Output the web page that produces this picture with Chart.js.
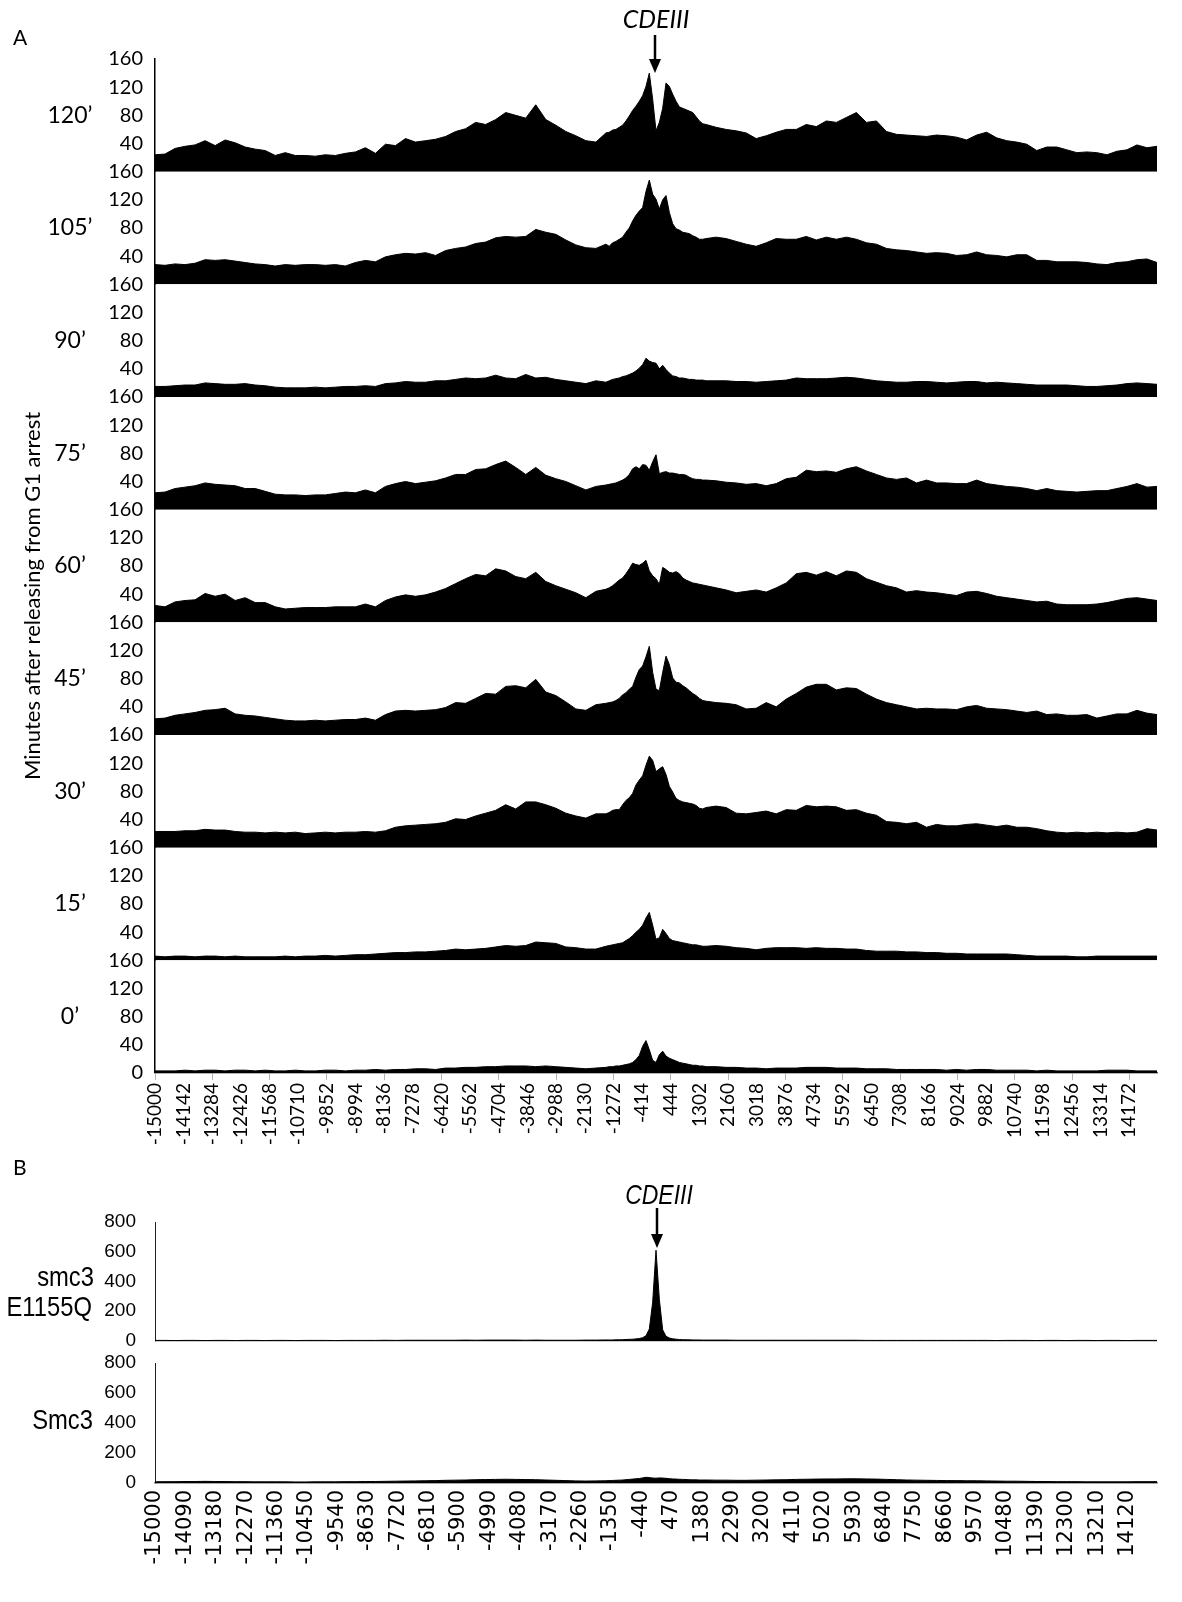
<!DOCTYPE html>
<html><head><meta charset="utf-8">
<script src="https://cdn.jsdelivr.net/npm/chart.js@4/dist/chart.umd.min.js"></script>
<style>
html,body{margin:0;padding:0;background:#fff;}
#wrap{position:relative;width:1182px;height:1602px;overflow:hidden;}
#cA{position:absolute;left:0;top:0;width:1182px;height:1160px;}
#cB{position:absolute;left:0;top:1150px;width:1182px;height:452px;}
</style></head><body>
<div id="wrap">
<canvas id="cA" width="1182" height="1160"></canvas>
<canvas id="cB" width="1182" height="452"></canvas>
</div>
<script>
// ---------- data ----------
const positions = [
-15000,-14700,-14400,-14100,-13800,-13500,-13200,-12900,-12600,-12300,-12000,-11700,-11400,-11100,-10800,-10500,-10200,-9900,-9600,-9300,-9000,-8700,-8400,-8100,-7800,-7500,-7200,-6900,-6600,-6300,-6000,-5700,-5400,-5100,-4800,-4500,-4200,-3900,-3600,-3300,-3000,-2700,-2400,-2100,-1800,
-1500,-1400,-1300,-1200,-1100,-1000,-900,-800,-700,-600,-500,-400,-300,-200,-100,0,100,200,300,400,500,600,700,800,900,1000,1100,1200,1300,1400,1500,
1800,2100,2400,2700,3000,3300,3600,3900,4200,4500,4800,5100,5400,5700,6000,6300,6600,6900,7200,7500,7800,8100,8400,8700,9000,9300,9600,9900,10200,10500,10800,11100,11400,11700,12000,12300,12600,12900,13200,13500,13800,14100,14400,14700,15000];

const timeLabels = ['120’','105’','90’','75’','60’','45’','30’','15’','0’'];

const min120 = [
24,25,33,36,38,44,37,45,41,35,32,30,23,27,23,23,22,24,23,26,28,34,26,39,37,47,42,44,46,50,57,61,70,67,74,84,80,76,95,74,66,57,51,44,42,
55,56,59,60,63,66,72,79,87,93,100,108,121,140,103,58,70,90,126,121,110,100,92,90,88,86,84,78,72,68,67,
63,60,58,55,47,51,56,60,60,67,64,72,70,77,84,70,72,57,53,52,51,50,52,51,49,45,52,56,48,44,42,39,30,35,35,31,27,28,27,24,29,31,38,34,36];
const min105 = [
28,27,29,28,30,35,34,35,33,31,29,28,26,28,27,28,28,27,28,26,31,34,32,39,42,44,43,45,41,48,51,53,58,60,66,68,67,68,78,74,71,63,56,52,51,
57,54,59,61,64,67,74,80,90,98,104,109,132,148,128,121,107,120,126,102,86,79,77,74,73,72,69,67,64,64,65,
67,65,61,57,54,59,65,64,64,68,63,67,64,67,64,59,57,51,49,48,46,44,45,44,41,42,46,42,41,39,42,42,34,34,32,32,32,31,29,28,31,32,35,36,31];
const min90 = [
15,15,16,17,17,20,19,18,18,19,17,16,14,13,13,13,14,13,14,15,15,16,15,19,20,22,21,21,23,23,25,27,26,27,31,27,26,32,27,28,25,23,21,19,23,
21,23,25,26,27,29,30,32,34,37,41,46,55,51,49,48,40,45,39,34,30,29,27,27,26,25,25,24,24,24,23,
23,23,22,22,21,22,23,24,27,26,26,26,27,28,27,25,23,22,21,21,22,22,21,20,21,22,22,20,21,20,19,18,17,17,17,17,16,15,15,16,17,19,20,19,18];
const min75 = [
24,25,30,32,34,38,36,35,34,30,30,26,22,21,21,20,21,21,23,25,24,28,24,33,37,40,37,39,41,45,50,50,57,58,64,69,60,50,60,49,44,40,34,28,33,
35,36,37,38,40,42,45,50,58,61,58,64,63,56,68,78,51,53,54,52,52,51,50,50,49,46,44,43,43,42,42,
41,39,38,36,37,34,37,44,46,56,54,55,53,58,61,55,50,45,43,45,38,42,38,38,37,37,42,37,35,33,32,30,27,30,27,26,25,26,27,27,30,33,37,32,33];
const min60 = [
24,22,29,31,32,41,37,40,31,35,28,28,22,19,20,21,21,21,22,22,22,26,22,31,36,39,37,39,43,48,55,62,68,66,76,73,65,62,71,58,52,47,42,35,44,
47,49,52,56,60,63,69,76,84,82,81,84,88,73,66,62,54,78,75,71,70,72,69,63,60,58,56,55,54,53,52,
49,46,42,44,46,43,49,56,69,71,67,72,66,73,71,62,57,52,49,43,45,43,42,40,38,43,44,41,37,35,33,31,29,30,26,25,25,25,26,28,31,34,35,33,31];
const min45 = [
23,24,28,30,32,35,36,38,30,28,27,25,23,21,20,20,21,20,21,22,22,24,21,29,34,35,34,35,36,39,46,45,52,59,58,69,70,67,79,61,56,47,37,35,43,
45,46,47,49,52,57,60,65,69,82,93,98,111,126,89,65,63,89,112,100,81,75,74,70,67,63,59,56,52,49,48,
46,45,43,37,38,46,40,51,59,68,72,72,64,67,66,58,51,46,43,40,37,38,37,37,36,40,42,38,37,36,34,32,34,29,30,28,28,29,24,27,30,30,35,31,29];
const min30 = [
23,23,23,24,24,26,25,25,23,22,22,21,22,21,22,20,21,22,21,22,22,23,22,24,29,31,32,33,34,36,41,40,45,49,53,61,55,65,65,61,56,49,45,42,48,
48,50,53,54,54,61,67,71,77,89,96,102,117,130,124,108,112,115,104,87,79,70,67,65,64,63,62,60,56,55,57,
59,57,49,48,50,52,48,54,53,60,58,59,58,53,54,49,46,37,36,34,36,29,33,31,31,33,34,32,30,32,29,29,27,24,22,21,22,21,22,21,22,21,22,27,25];
const min15 = [
6,5,6,6,5,6,6,5,6,5,5,5,5,6,5,6,6,7,6,7,8,8,9,10,11,11,12,12,13,14,16,15,16,17,19,21,20,21,26,25,24,19,18,16,16,
20,21,22,23,24,25,28,31,35,40,44,50,60,68,50,30,32,44,38,31,28,27,26,25,24,23,22,22,21,20,20,
21,20,18,17,15,17,18,18,18,17,18,17,17,16,16,14,13,13,13,12,12,11,11,10,10,9,9,9,9,9,8,7,6,6,6,6,5,5,6,6,6,6,6,6,6];
const min0 = [
3,3,3,4,3,4,4,3,4,4,3,4,3,3,4,3,3,4,4,3,4,4,5,4,5,5,6,6,5,7,7,8,8,9,9,10,10,10,9,10,9,8,7,6,7,
8,9,9,10,10,11,12,13,15,19,25,38,46,33,18,15,26,31,24,21,19,17,15,14,13,12,11,11,10,10,9,
9,8,8,7,7,6,7,7,7,8,8,8,7,7,7,6,6,6,5,5,5,5,5,4,5,4,5,5,4,4,4,4,3,4,3,3,3,3,3,4,4,4,3,3,3];

const seriesA = [min120, min105, min90, min75, min60, min45, min30, min15, min0];

const tickLabelsA = [-15000,-14142,-13284,-12426,-11568,-10710,-9852,-8994,-8136,-7278,-6420,-5562,-4704,-3846,-2988,-2130,-1272,-414,444,1302,2160,3018,3876,4734,5592,6450,7308,8166,9024,9882,10740,11598,12456,13314,14172];
const yTicksA = [0,40,80,120,160];

const smc3E1155Q = [
4,4,3,4,4,3,4,4,3,4,4,3,4,4,3,4,4,4,3,4,4,4,4,5,4,5,5,5,5,5,5,6,5,6,6,6,6,5,6,5,5,5,5,6,6,
7,7,7,8,8,9,10,11,12,14,17,22,35,80,260,610,280,75,32,20,15,12,10,9,8,8,7,7,7,6,6,
6,6,5,5,5,5,5,5,5,5,5,5,5,5,5,4,4,4,4,4,4,4,4,4,4,4,4,4,3,4,4,4,3,4,4,3,4,4,3,4,4,3,4,4,4];
const smc3WT = [
8,9,9,10,10,11,10,10,9,9,8,8,8,8,7,7,8,8,8,9,9,10,10,11,12,13,14,15,16,18,19,20,22,23,24,25,24,23,22,20,18,16,14,13,14,
15,16,17,18,19,20,22,24,26,28,30,34,38,36,33,32,34,33,31,29,27,26,25,24,23,22,21,21,20,20,20,
19,19,18,18,19,20,21,22,24,25,26,27,27,28,28,27,26,24,22,20,19,18,17,16,16,15,15,14,13,12,12,11,10,10,9,9,9,8,8,8,8,8,9,9,9];
const seriesB = [smc3E1155Q, smc3WT];
const labelsB = [['smc3','E1155Q'], ['Smc3']];
const tickLabelsB = [-15000,-14090,-13180,-12270,-11360,-10450,-9540,-8630,-7720,-6810,-5900,-4990,-4080,-3170,-2260,-1350,-440,470,1380,2290,3200,4110,5020,5930,6840,7750,8660,9570,10480,11390,12300,13210,14120];
const yTicksB = [0,200,400,600,800];

// ---------- helpers ----------
const FONT_A = 'Lato, "Open Sans", sans-serif';
const FONT_B = '"Liberation Sans", Arial, sans-serif';
Chart.defaults.color = '#000';
Chart.defaults.animation = false;

function drawArrow(ctx, x, y1, y2) {
  ctx.save();
  ctx.strokeStyle = '#000'; ctx.fillStyle = '#000'; ctx.lineWidth = 2.5;
  ctx.beginPath(); ctx.moveTo(x, y1); ctx.lineTo(x, y2 - 10); ctx.stroke();
  ctx.beginPath(); ctx.moveTo(x - 6, y2 - 14); ctx.lineTo(x + 6, y2 - 14); ctx.lineTo(x, y2); ctx.closePath(); ctx.fill();
  ctx.restore();
}
function condensedText(ctx, text, x, y, font, sx, align) {
  ctx.save();
  ctx.translate(x, y);
  ctx.scale(sx, 1);
  ctx.font = font;
  ctx.textAlign = align;
  ctx.fillText(text, 0, 0);
  ctx.restore();
}
function toPoints(vals) { return positions.map((x, j) => ({x: x, y: vals[j]})); }

// ---------- panel A ----------
const scalesA = {
  x: {
    type: 'linear', position: 'bottom', min: -15000, max: 15000,
    afterBuildTicks: s => { s.ticks = tickLabelsA.map(v => ({value: v})); },
    afterFit: s => { s.height = 87; },
    ticks: {autoSkip: false, minRotation: 90, maxRotation: 90, padding: 3, color: '#000',
            font: {family: FONT_A, size: 19}, callback: v => String(v)},
    grid: {drawOnChartArea: false, drawTicks: true, tickLength: 7,
           color: c => (c.index % 2 === 0 ? '#b5b5b5' : 'rgba(0,0,0,0)')},
    border: {display: true, color: '#666', width: 1.5}
  }
};
seriesA.forEach((s, i) => {
  scalesA['y' + i] = {
    type: 'linear', position: 'left', stack: 'A', stackWeight: 1, weight: 20 - i,
    min: yTicksA[0], max: yTicksA[yTicksA.length - 1],
    afterFit: sc => { sc.width = 155; },
    afterBuildTicks: sc => { sc.ticks = yTicksA.map(v => ({value: v})); },
    ticks: {autoSkip: false, padding: 12, color: '#000', font: {family: FONT_A, size: 20},
            callback: v => ((v === 0 && i < seriesA.length - 1) ? '' : String(v))},
    grid: {display: false, drawTicks: false},
    border: {display: true, color: '#000', width: 1.5}
  };
});

const textA = {
  id: 'textA',
  afterDraw(chart) {
    const ctx = chart.ctx;
    ctx.save();
    ctx.fillStyle = '#000';
    ctx.textBaseline = 'middle';
    ctx.textAlign = 'left';
    ctx.font = '21px ' + FONT_A;
    ctx.fillText('A', 13, 38);
    ctx.textAlign = 'center';
    ctx.font = '23px ' + FONT_A;
    timeLabels.forEach((t, i) => {
      ctx.fillText(t, 70, chart.scales['y' + i].getPixelForValue(80));
    });
    const top = chart.scales.y0.top, bot = chart.scales['y' + (seriesA.length - 1)].bottom;
    ctx.save();
    ctx.translate(33, (top + bot) / 2 + 30);
    ctx.rotate(-Math.PI / 2);
    ctx.font = '22px ' + FONT_A;
    ctx.fillText('Minutes after releasing from G1 arrest', 0, 0);
    ctx.restore();
    const xc = chart.scales.x.getPixelForValue(0);
    ctx.font = 'italic 25px ' + FONT_A;
    ctx.fillText('CDEIII', xc, 20);
    drawArrow(ctx, xc - 1, 35, top + 14);
    ctx.restore();
  }
};

new Chart(document.getElementById('cA'), {
  type: 'line',
  data: {
    datasets: seriesA.map((vals, i) => ({
      label: timeLabels[i], data: toPoints(vals), xAxisID: 'x', yAxisID: 'y' + i,
      fill: 'origin', backgroundColor: '#000', borderColor: '#000', borderWidth: 1,
      pointRadius: 0, tension: 0
    }))
  },
  options: {
    responsive: false, animation: false, events: [],
    layout: {padding: {left: 0, right: 25, top: 59, bottom: 0}},
    plugins: {legend: {display: false}, tooltip: {enabled: false}},
    scales: scalesA
  },
  plugins: [textA]
});

// ---------- panel B ----------
const yB = (weight, stackWeight) => ({
  type: 'linear', position: 'left', stack: 'B', stackWeight: stackWeight, weight: weight,
  min: yTicksB[0], max: yTicksB[yTicksB.length - 1],
  afterFit: sc => { sc.width = 155; },
  afterBuildTicks: sc => { sc.ticks = yTicksB.map(v => ({value: v})); },
  ticks: {autoSkip: false, padding: 19, color: '#000', font: {family: FONT_B, size: 19}, callback: v => String(v)},
  grid: {display: true, drawTicks: false, color: c => (c.tick && c.tick.value === 0 ? '#9a9a9a' : 'rgba(0,0,0,0)'), lineWidth: 1.5},
  border: {display: true, color: '#222', width: 1}
});
const scalesB = {
  x: {
    type: 'linear', position: 'bottom', min: -15000, max: 15000,
    afterBuildTicks: s => { s.ticks = tickLabelsB.map(v => ({value: v})); },
    afterFit: s => { s.height = 119; },
    ticks: {autoSkip: false, minRotation: 90, maxRotation: 90, padding: 7, color: '#000',
            font: {family: '"DejaVu Sans", sans-serif', size: 21}, callback: v => String(v)},
    grid: {display: false, drawTicks: false},
    border: {display: true, color: '#888', width: 1.5}
  },
  b0: yB(30, 119),
  gap: {type: 'linear', position: 'left', stack: 'B', stackWeight: 22, weight: 20, min: 0, max: 1,
        afterFit: sc => { sc.width = 155; },
        ticks: {display: false}, grid: {display: false, drawTicks: false}, border: {display: false}},
  b1: yB(10, 120)
};

const textB = {
  id: 'textB',
  afterDraw(chart) {
    const ctx = chart.ctx;
    ctx.save();
    ctx.fillStyle = '#000';
    ctx.textBaseline = 'middle';
    ctx.textAlign = 'left';
    ctx.font = '21px ' + FONT_A;
    ctx.fillText('B', 13, 18);
    const s0 = chart.scales.b0, s1 = chart.scales.b1;
    const lf = '28px ' + FONT_B;
    condensedText(ctx, labelsB[0][0], 94, s0.getPixelForValue(400) - 3, lf, 0.85, 'right');
    condensedText(ctx, labelsB[0][1], 92, s0.getPixelForValue(400) + 27, lf, 0.85, 'right');
    condensedText(ctx, labelsB[1][0], 93, s1.getPixelForValue(400) - 2, lf, 0.85, 'right');
    const xc = chart.scales.x.getPixelForValue(0);
    condensedText(ctx, 'CDEIII', xc + 3, 46, 'italic 28px ' + FONT_B, 0.82, 'center');
    drawArrow(ctx, xc + 1, 58, s0.top + 26);
    ctx.restore();
  }
};

new Chart(document.getElementById('cB'), {
  type: 'line',
  data: {
    datasets: seriesB.map((vals, i) => ({
      label: labelsB[i].join(' '), data: toPoints(vals), xAxisID: 'x', yAxisID: i === 0 ? 'b0' : 'b1',
      fill: 'origin', backgroundColor: '#000', borderColor: '#000', borderWidth: 1,
      pointRadius: 0, tension: 0
    }))
  },
  options: {
    responsive: false, animation: false, events: [],
    layout: {padding: {left: 0, right: 25, top: 72, bottom: 0}},
    plugins: {legend: {display: false}, tooltip: {enabled: false}},
    scales: scalesB
  },
  plugins: [textB]
});
</script>
</body></html>
